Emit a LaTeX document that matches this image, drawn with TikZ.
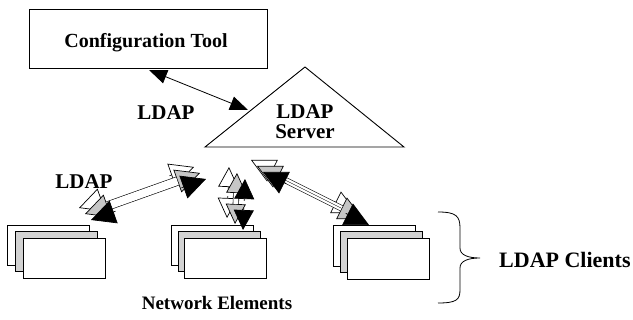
\documentclass[tikz,border=0pt]{standalone}
\usepackage{fontspec}
\setmainfont{Liberation Serif}
\usetikzlibrary{calc,arrows.meta}
% one arrow head: #1 tip, #2 other end, #3 dx, #4 dy, #5 fill, #6 length
\newcommand\hd[6]{%
  \draw[line width=0.7pt,line join=miter,-{Triangle[length=#6pt,width=#6pt,fill=#5]}]
    ($(#1)!#6pt+2pt!(#2)+({#3},{#4})$) -- ($(#1)+({#3},{#4})$);}
% stylised arrow with three staggered heads at each end
\newcommand\triarrow[6]{%
  \foreach \k/\col in {2/white,1/gray!45}{%
    \hd{#1}{#2}{\k*(#3)}{\k*(#4)}{\col}{#5}%
    \hd{#2}{#1}{\k*(#3)}{\k*(#4)}{\col}{#5}%
  }%
  \draw[line width=0.6pt,double,double distance=#6pt]
    ($(#1)!#5pt!(#2)+({#3},{#4})$) -- ($(#2)!#5pt!(#1)+({#3},{#4})$);%
  \hd{#1}{#2}{0}{0}{black}{#5}%
  \hd{#2}{#1}{0}{0}{black}{#5}%
}
\begin{document}
\begin{tikzpicture}[x=1pt,y=-1pt,
  lbl/.style={font=\bfseries\fontsize{21}{23}\selectfont, inner sep=0pt},
  box/.style={draw, line width=0.9pt, fill=white, inner sep=0pt},
  sheet/.style={draw, line width=0.8pt, fill=white, minimum width=82pt,
    minimum height=40pt, inner sep=0pt, anchor=north west},
  midsheet/.style={sheet, fill=gray!35},
  headarrow/.style={line width=0.8pt,
    {Triangle[length=18pt,width=14pt]}-{Triangle[length=18pt,width=14pt]}}]
\useasboundingbox (0,0) rectangle (633,320);

% configuration tool
\node[box, minimum width=238pt, minimum height=59pt] (cfg) at (148,38.5) {};
\node[lbl, font=\bfseries\fontsize{20}{22}\selectfont] (cfgt) at (146,43) {Configuration Tool};

% LDAP server triangle
\coordinate (apex) at (305,67);
\coordinate (bl) at (205,147);
\coordinate (br) at (404,147);
\draw[line width=0.9pt, line join=miter] (apex) -- (bl) -- (br) -- cycle;
\node[lbl] (srv1) at (305,112) {LDAP};
\node[lbl] (srv2) at (305,132) {Server};

% config tool <-> server
\coordinate (ca) at (149,70);
\coordinate (cb) at (248,110);
\draw[headarrow] (ca) -- (cb);
\node[lbl] (l1) at (166,113) {LDAP};

% network element stacks
\node[sheet] (s1a) at (7,225) {};
\node[midsheet] (s1b) at (15,231) {};
\node[sheet] (s1c) at (23,238) {};
\node[sheet] (s2a) at (171,225) {};
\node[midsheet] (s2b) at (178,231) {};
\node[sheet] (s2c) at (184,238) {};
\node[sheet, minimum height=41pt] (s3a) at (333,225) {};
\node[midsheet, minimum height=41pt] (s3b) at (340,231) {};
\node[sheet, minimum height=41pt] (s3c) at (347,238) {};

% stylised LDAP arrows
\coordinate (aL) at (91,220);
\coordinate (aR) at (206,179);
\triarrow{aL}{aR}{-6}{-6}{24}{8}
\coordinate (bT) at (245,179);
\coordinate (bB) at (243,230);
\triarrow{bT}{bB}{-8}{-6}{20}{5}
\coordinate (cL) at (263,172);
\coordinate (cR) at (369,225);
\triarrow{cL}{cR}{-6}{-6}{24}{5}
\draw[line width=0.4pt] ($(cL)!24pt!(cR)+(-6,-6)$) -- ($(cR)!24pt!(cL)+(-6,-6)$);

\node[lbl] (l2) at (84,182) {LDAP};
\node[lbl, font=\bfseries\fontsize{19}{21}\selectfont] (ne) at (217,303) {Network Elements};

% brace and clients label
\coordinate (bt) at (438,212);
\coordinate (btip) at (480,258);
\coordinate (bbot) at (438,303);
\draw[line width=0.8pt] (bt) .. controls (456,212) and (460,216) .. (460,228)
  -- (460,248) .. controls (460,255) and (468,258) .. (btip)
  .. controls (468,258) and (460,261) .. (460,268)
  -- (460,290) .. controls (460,300) and (456,303) .. (bbot);
\node[lbl, font=\bfseries\fontsize{22}{24}\selectfont, anchor=west] (cl) at (499,260) {LDAP Clients};
\end{tikzpicture}
\end{document}
